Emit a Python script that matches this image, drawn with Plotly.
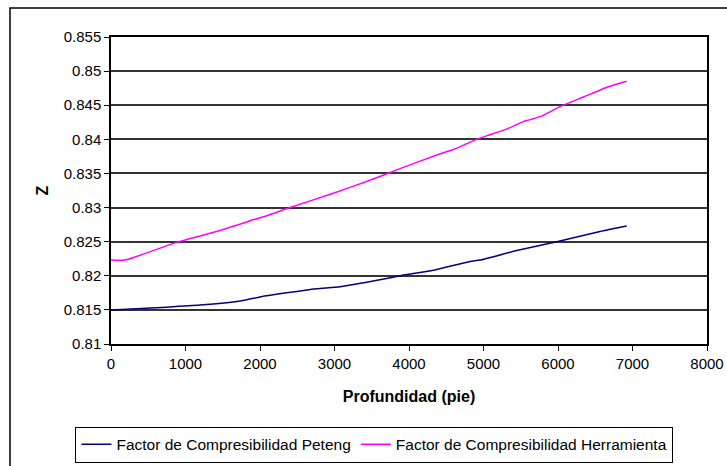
import plotly.graph_objects as go

depth_peteng = [0, 747, 1195, 1732, 2000, 2358, 2761, 3074, 3700, 3879, 4327, 4819, 4953, 5446, 6027, 6564, 6922]
z_peteng = [0.8150, 0.8154, 0.8157, 0.8163, 0.8169, 0.8175, 0.8181, 0.8184, 0.8196, 0.8200, 0.8208, 0.8221, 0.8223, 0.8237, 0.8251, 0.8265, 0.8273]

depth_herr = [0, 188, 881, 1418, 1911, 2090, 2403, 2984, 3476, 3879, 4372, 4595, 4908, 5064, 5311, 5534, 5781, 6027, 6340, 6676, 6922]
z_herr = [0.8223, 0.8223, 0.8249, 0.8265, 0.8282, 0.8288, 0.8300, 0.8321, 0.8340, 0.8357, 0.8377, 0.8385, 0.8400, 0.8406, 0.8415, 0.8426, 0.8434, 0.8448, 0.8462, 0.8477, 0.8485]

name_peteng = "Factor de Compresibilidad Peteng"
name_herr = "Factor de Compresibilidad Herramienta"

font = "Liberation Sans, Arial, sans-serif"

fig = go.Figure()
fig.add_trace(go.Scatter(x=depth_peteng, y=z_peteng, mode="lines", name=name_peteng,
                         line=dict(color="#000080", width=1.5, shape="spline", smoothing=0.5)))
fig.add_trace(go.Scatter(x=depth_herr, y=z_herr, mode="lines", name=name_herr,
                         line=dict(color="#FF00FF", width=1.5, shape="spline", smoothing=0.5)))

fig.update_layout(
    width=727, height=466,
    margin=dict(l=111, r=20, t=37, b=122, autoexpand=False),
    paper_bgcolor="white", plot_bgcolor="white",
    font=dict(family=font, size=15, color="black"),
    showlegend=True,
    legend=dict(orientation="h", x=0.442, y=-0.328, xanchor="center", yanchor="middle",
                bordercolor="black", borderwidth=1, font=dict(size=15.5, family=font, color="black"),
                itemwidth=30, tracegroupgap=0),
    xaxis=dict(range=[0, 8000], tickvals=[0, 1000, 2000, 3000, 4000, 5000, 6000, 7000, 8000],
               automargin=False,
               showgrid=False, zeroline=False, showline=True, linecolor="black", linewidth=1.5,
               mirror=True, ticks="outside", ticklen=5, tickcolor="black",
               tickfont=dict(size=15, family=font, color="black"),
               title=dict(text="<b>Profundidad (pie)</b>", font=dict(size=16, family=font, color="black"), standoff=20)),
    yaxis=dict(range=[0.81, 0.855], tickvals=[0.81, 0.815, 0.82, 0.825, 0.83, 0.835, 0.84, 0.845, 0.85, 0.855],
               ticktext=["0.81", "0.815", "0.82", "0.825", "0.83", "0.835", "0.84", "0.845", "0.85", "0.855"],
               automargin=False,
               showgrid=True, gridcolor="#333333", gridwidth=1.5, zeroline=False,
               showline=True, linecolor="black", linewidth=1.5, mirror=True,
               ticks="outside", ticklen=5, tickcolor="black",
               tickfont=dict(size=15, family=font, color="black"),
               title=dict(text="<b>Z</b>", font=dict(size=16, family=font, color="black"), standoff=11)),
    shapes=[dict(type="rect", xref="paper", yref="paper",
                 x0=(10 - 111) / 596, x1=(740 - 111) / 596,
                 y0=(344 - 480) / 307, y1=(344 - 8) / 307,
                 line=dict(color="black", width=1.5), fillcolor="rgba(0,0,0,0)", layer="below")],
)

fig.write_html("out.html")
